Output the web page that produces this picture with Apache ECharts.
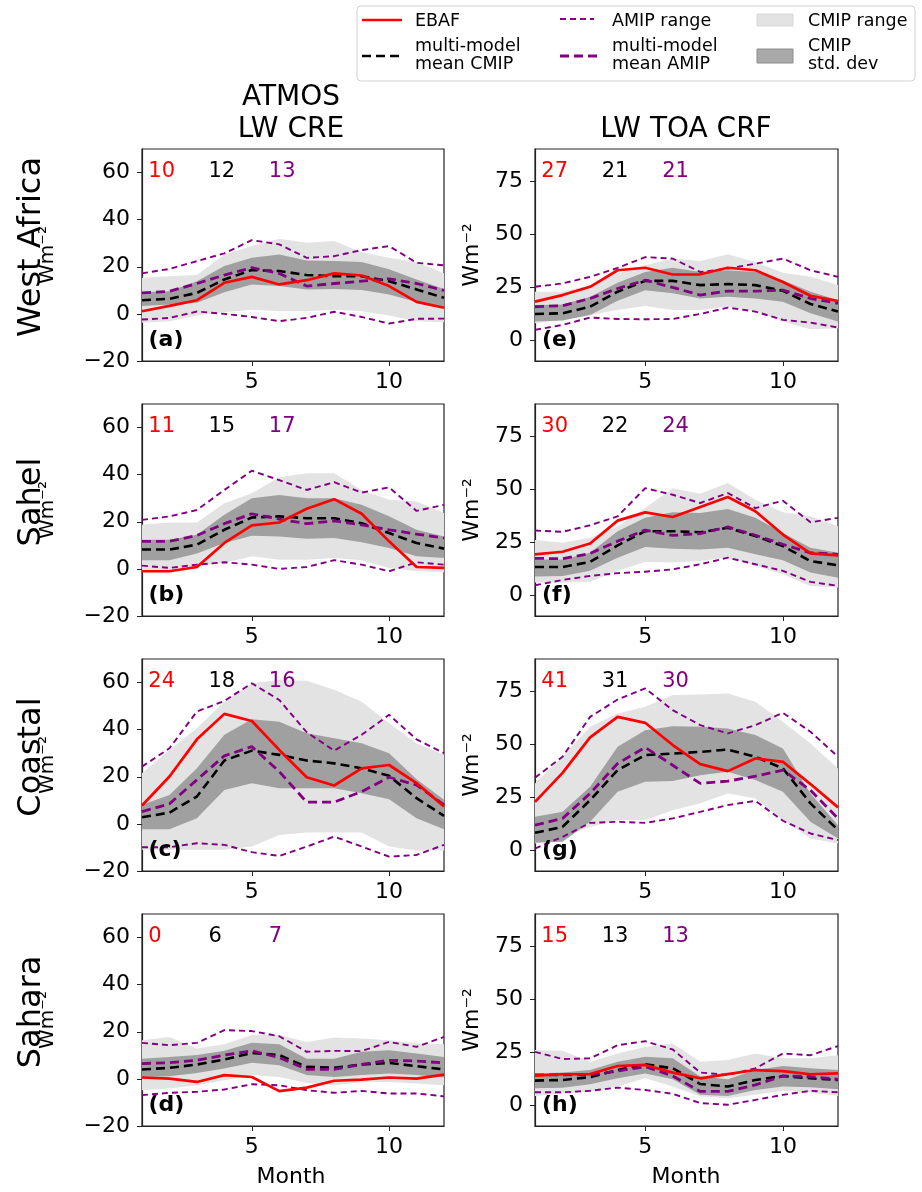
<!DOCTYPE html>
<html>
<head>
<meta charset="utf-8">
<script src="https://cdn.jsdelivr.net/npm/echarts@6/dist/echarts.min.js"></script>
<style>
html, body { margin: 0; padding: 0; background: #fff; }
#chart1 { width: 922px; height: 1192px; }
</style>
</head>
<body>
<div id="chart1"></div>
<script>
var months = [1, 2, 3, 4, 5, 6, 7, 8, 9, 10, 11, 12];

// ATMOS LW CRE, West Africa (a)
var aEbaf = [1.1, 3.4, 5.8, 13.2, 15.7, 12.5, 14.3, 17.2, 16.3, 11.8, 5.1, 2.6];
var aCmip = [5.8, 6.4, 8.9, 14.6, 18.6, 18.2, 16.5, 16.0, 16.0, 13.9, 10.4, 6.8];
var aAmip = [8.9, 9.6, 12.9, 16.5, 19.6, 17.2, 11.8, 12.9, 13.9, 14.9, 12.9, 10.0];
var aAmipMax = [17.2, 19.1, 22.4, 25.7, 31.3, 29.5, 23.8, 24.5, 27.1, 28.8, 21.7, 20.6];
var aAmipMin = [-2.4, -1.7, 1.0, 0.0, -1.3, -3.1, -1.7, 0.9, -1.3, -4.1, -2.1, -2.0];
var aCmipMax = [15.3, 16.0, 16.5, 25.2, 28.8, 31.9, 30.2, 30.9, 26.2, 23.8, 22.0, 17.2];
var aCmipMin = [-3.8, -3.1, -0.7, 0.7, 1.8, 1.1, 1.1, 1.8, 1.1, -0.7, -3.1, -3.5];
var aStdHi = [9.2, 9.6, 13.9, 20.3, 23.8, 25.2, 22.7, 22.4, 22.0, 18.9, 14.6, 10.6];
var aStdLo = [3.3, 4.0, 4.7, 9.2, 12.5, 11.8, 10.4, 10.6, 10.1, 8.2, 5.0, 2.6];

// Sahel (b)
var bEbaf = [-1.0, -1.0, 0.8, 11.0, 18.5, 19.7, 25.5, 29.6, 23.4, 11.7, 0.8, 0.4];
var bCmip = [8.2, 8.2, 10.3, 16.6, 21.8, 22.3, 21.5, 21.5, 19.4, 15.2, 11.0, 8.6];
var bAmip = [11.7, 11.7, 14.2, 19.2, 23.4, 21.1, 19.2, 20.4, 18.7, 16.6, 14.8, 13.1];
var bAmipMax = [20.8, 22.3, 25.0, 33.5, 41.7, 37.7, 33.5, 36.8, 32.4, 34.6, 24.6, 27.2];
var bAmipMin = [1.4, 0.4, 1.8, 2.8, 1.8, 0.0, 0.8, 3.7, 1.8, -1.0, 2.8, 1.8];
var bCmipMax = [18.7, 19.7, 19.7, 27.9, 32.1, 38.9, 40.6, 40.6, 33.5, 29.3, 28.6, 23.7];
var bCmipMin = [-1.4, -1.4, 1.1, 2.5, 5.4, 3.9, 3.9, 4.6, 3.7, 0.4, -1.0, -1.4];
var bStdHi = [12.4, 12.4, 14.5, 23.0, 30.0, 31.4, 30.0, 30.0, 27.2, 22.3, 16.6, 13.8];
var bStdLo = [3.7, 3.7, 6.5, 11.0, 14.1, 13.8, 12.8, 13.1, 11.3, 8.9, 5.4, 4.6];

// Coastal (c)
var cEbaf = [7.8, 20.1, 35.9, 46.7, 43.7, 31.4, 19.8, 16.3, 23.6, 25.0, 17.3, 7.4];
var cCmip = [2.8, 4.8, 11.6, 26.9, 31.1, 29.3, 26.9, 25.7, 23.6, 20.4, 10.9, 3.4];
var cAmip = [5.2, 8.5, 18.7, 28.9, 32.8, 22.2, 9.2, 9.2, 13.7, 19.8, 16.5, 8.1];
var cAmipMax = [24.3, 32.1, 47.7, 52.2, 59.7, 52.6, 38.9, 31.1, 37.8, 46.3, 35.9, 30.0];
var cAmipMin = [-9.9, -9.9, -8.2, -8.9, -12.0, -13.6, -9.6, -5.4, -9.6, -13.9, -13.2, -8.9];
var cCmipMax = [21.5, 31.4, 40.6, 51.9, 59.7, 61.1, 60.8, 56.9, 51.9, 42.7, 34.2, 29.3];
var cCmipMin = [-11.0, -11.0, -11.0, -11.0, -9.6, -4.7, -3.7, -3.7, -3.7, -9.6, -11.3, -11.3];
var cStdHi = [8.1, 12.3, 23.6, 37.8, 44.4, 43.4, 38.5, 36.4, 34.2, 30.0, 19.0, 10.2];
var cStdLo = [-2.3, -2.3, 2.4, 14.4, 17.3, 15.1, 15.1, 15.1, 13.0, 10.5, 2.4, -2.3];

// Sahara (d)
var dEbaf = [0.6, 0.1, -1.3, 1.6, 0.8, -5.2, -3.7, -0.8, -0.3, 0.6, 0.1, 1.8];
var dCmip = [4.0, 4.7, 6.1, 8.2, 11.0, 10.1, 5.1, 4.7, 6.1, 6.8, 5.4, 4.0];
var dAmip = [6.5, 6.9, 7.9, 10.1, 11.9, 9.1, 4.1, 4.0, 6.2, 7.9, 7.6, 6.8];
var dAmipMax = [15.3, 14.3, 15.3, 20.7, 20.3, 18.1, 11.5, 11.9, 11.8, 15.7, 13.6, 17.8];
var dAmipMin = [-6.9, -5.9, -5.5, -4.5, -2.3, -2.7, -4.8, -5.9, -5.1, -6.2, -6.2, -7.4];
var dCmipMax = [16.4, 17.8, 12.9, 14.7, 18.6, 18.6, 15.7, 17.6, 17.1, 16.4, 15.0, 14.7];
var dCmipMin = [-4.8, -4.1, -2.7, -0.6, 1.6, 0.8, -1.7, -2.7, -1.3, -1.3, -2.0, -2.7];
var dStdHi = [8.6, 9.3, 10.1, 11.9, 15.3, 14.7, 8.6, 8.6, 11.5, 12.2, 10.8, 9.3];
var dStdLo = [0.8, 1.1, 2.5, 4.4, 6.8, 5.8, 1.6, 0.8, 1.6, 2.3, 1.6, 0.6];

// LW TOA CRF, West Africa (e)
var eEbaf = [18.0, 21.1, 25.0, 32.8, 34.0, 30.8, 30.9, 34.0, 32.8, 27.3, 20.8, 18.3];
var eCmip = [12.2, 12.5, 15.6, 22.7, 27.8, 27.8, 25.8, 26.3, 25.8, 23.1, 16.9, 13.3];
var eAmip = [15.6, 16.1, 19.5, 24.2, 28.1, 24.7, 21.1, 23.0, 23.0, 23.4, 19.5, 17.2];
var eAmipMax = [25.0, 26.6, 29.7, 33.9, 39.0, 38.3, 32.0, 33.6, 35.9, 38.3, 32.8, 29.7];
var eAmipMin = [4.7, 7.0, 10.5, 9.8, 9.7, 9.8, 12.2, 15.2, 13.3, 9.4, 8.1, 5.8];
var eCmipMax = [22.7, 22.7, 25.8, 31.3, 35.2, 38.3, 37.2, 40.3, 36.7, 31.6, 29.7, 25.8];
var eCmipMin = [7.8, 9.4, 11.7, 14.1, 15.9, 14.1, 14.1, 15.6, 13.3, 8.6, 5.0, 5.5];
var eStdHi = [16.4, 16.7, 20.3, 26.9, 32.0, 34.0, 32.0, 32.8, 32.0, 28.1, 22.7, 18.8];
var eStdLo = [8.6, 9.1, 11.7, 18.4, 23.4, 21.9, 19.5, 20.3, 19.5, 18.0, 12.5, 8.6];

// Sahel (f)
var fEbaf = [19.1, 20.3, 24.2, 35.0, 38.9, 36.7, 41.4, 46.1, 39.4, 28.4, 19.5, 18.6];
var fCmip = [13.1, 13.1, 15.5, 23.3, 30.0, 30.0, 29.5, 31.6, 27.7, 23.0, 15.9, 13.9];
var fAmip = [17.2, 17.0, 19.5, 25.3, 30.5, 28.0, 28.9, 32.0, 28.1, 23.8, 19.8, 19.1];
var fAmipMax = [30.3, 29.7, 32.8, 37.0, 50.3, 47.2, 43.3, 48.0, 40.9, 44.4, 34.2, 36.3];
var fAmipMin = [4.5, 7.0, 8.9, 10.2, 10.9, 12.0, 14.4, 17.5, 14.4, 11.3, 6.1, 4.2];
var fCmipMax = [25.8, 24.5, 26.9, 32.3, 40.9, 50.3, 47.7, 52.7, 44.8, 38.9, 37.0, 32.3];
var fCmipMin = [5.8, 5.8, 6.1, 11.3, 15.5, 15.2, 15.9, 17.5, 13.6, 9.7, 4.2, 3.4];
var fStdHi = [16.7, 16.7, 19.8, 30.0, 36.3, 38.9, 38.6, 40.5, 36.3, 29.2, 22.2, 19.8];
var fStdLo = [8.6, 8.9, 11.3, 17.5, 22.5, 21.7, 21.4, 22.2, 19.1, 16.3, 10.5, 8.1];

// Coastal (g)
var gEbaf = [22.6, 36.3, 53.0, 62.7, 59.9, 49.4, 40.4, 37.1, 43.1, 41.5, 31.0, 20.0];
var gCmip = [8.0, 10.8, 23.4, 37.6, 44.7, 45.4, 46.2, 47.3, 43.9, 38.4, 21.9, 9.3];
var gAmip = [11.6, 14.8, 26.6, 40.7, 48.3, 39.9, 31.3, 32.4, 34.7, 37.6, 28.1, 14.8];
var gAmipMax = [34.0, 43.9, 62.7, 70.9, 76.1, 65.9, 58.8, 54.9, 58.8, 64.6, 55.7, 43.9];
var gAmipMin = [0.6, 6.1, 12.7, 13.2, 12.7, 14.8, 17.9, 21.1, 23.1, 13.7, 7.7, 4.6];
var gCmipMax = [31.3, 43.9, 58.0, 64.3, 67.5, 73.0, 73.3, 73.7, 69.8, 60.4, 50.2, 38.4];
var gCmipMin = [3.0, 6.1, 10.8, 14.0, 14.0, 18.7, 21.9, 26.6, 24.2, 14.0, 5.3, 3.0];
var gStdHi = [15.6, 17.9, 29.7, 48.6, 56.4, 58.3, 58.0, 57.2, 54.1, 47.8, 26.6, 11.6];
var gStdLo = [3.3, 3.8, 13.2, 27.4, 32.1, 32.5, 35.2, 36.8, 32.9, 27.4, 13.2, 5.3];

// Sahara (h)
var hEbaf = [13.8, 14.4, 14.5, 18.3, 18.8, 15.2, 12.5, 14.5, 16.4, 15.9, 14.4, 14.8];
var hCmip = [11.4, 11.7, 13.0, 16.4, 19.1, 17.2, 9.8, 8.6, 11.7, 13.6, 12.5, 11.7];
var hAmip = [14.1, 14.1, 14.1, 15.9, 18.0, 13.6, 6.3, 6.3, 9.4, 13.6, 13.3, 12.0];
var hAmipMax = [25.0, 21.6, 21.9, 28.1, 30.0, 26.1, 15.2, 14.1, 17.2, 24.2, 23.4, 27.7];
var hAmipMin = [5.9, 5.9, 6.6, 8.1, 7.0, 5.2, 0.8, 0.0, 2.3, 4.7, 6.6, 5.9];
var hCmipMax = [25.8, 25.5, 20.3, 24.2, 27.3, 28.9, 20.3, 21.1, 24.2, 21.9, 21.9, 23.4];
var hCmipMin = [4.2, 5.2, 6.3, 8.6, 12.5, 8.6, 3.9, 3.1, 4.7, 6.6, 5.8, 4.2];
var hStdHi = [14.8, 15.2, 16.4, 20.3, 22.7, 21.9, 13.3, 12.0, 16.4, 18.3, 17.2, 16.4];
var hStdLo = [7.8, 8.1, 9.7, 12.5, 14.8, 12.0, 4.7, 4.2, 7.0, 8.6, 8.3, 7.3];

// annual means printed in each panel (EBAF, CMIP, AMIP), panels a..h
var meanEbaf = [10, 11, 24, 0, 27, 30, 41, 15];
var meanCmip = [12, 15, 18, 6, 21, 22, 31, 13];
var meanAmip = [13, 17, 16, 7, 21, 24, 30, 13];

var regions = ['West Africa', 'Sahel', 'Coastal', 'Sahara'];
var monthTicks = [5, 10];
var creTicks = [-20, 0, 20, 40, 60];
var crfTicks = [0, 25, 50, 75];

var FONT = '"DejaVu Sans"';
var RED = '#ff0000', PURPLE = '#800080', LIGHT = '#e3e3e3', DARK = '#a0a0a0';

var colX = [142, 535], colW = [302, 303];
var rowY = [149, 404, 659, 914], rowH = 212;

var panels = [
    {id: 'a', col: 0, row: 0, ebaf: aEbaf, cmip: aCmip, amip: aAmip, amipMax: aAmipMax, amipMin: aAmipMin, cmipMax: aCmipMax, cmipMin: aCmipMin, stdHi: aStdHi, stdLo: aStdLo},
    {id: 'b', col: 0, row: 1, ebaf: bEbaf, cmip: bCmip, amip: bAmip, amipMax: bAmipMax, amipMin: bAmipMin, cmipMax: bCmipMax, cmipMin: bCmipMin, stdHi: bStdHi, stdLo: bStdLo},
    {id: 'c', col: 0, row: 2, ebaf: cEbaf, cmip: cCmip, amip: cAmip, amipMax: cAmipMax, amipMin: cAmipMin, cmipMax: cCmipMax, cmipMin: cCmipMin, stdHi: cStdHi, stdLo: cStdLo},
    {id: 'd', col: 0, row: 3, ebaf: dEbaf, cmip: dCmip, amip: dAmip, amipMax: dAmipMax, amipMin: dAmipMin, cmipMax: dCmipMax, cmipMin: dCmipMin, stdHi: dStdHi, stdLo: dStdLo},
    {id: 'e', col: 1, row: 0, ebaf: eEbaf, cmip: eCmip, amip: eAmip, amipMax: eAmipMax, amipMin: eAmipMin, cmipMax: eCmipMax, cmipMin: eCmipMin, stdHi: eStdHi, stdLo: eStdLo},
    {id: 'f', col: 1, row: 1, ebaf: fEbaf, cmip: fCmip, amip: fAmip, amipMax: fAmipMax, amipMin: fAmipMin, cmipMax: fCmipMax, cmipMin: fCmipMin, stdHi: fStdHi, stdLo: fStdLo},
    {id: 'g', col: 1, row: 2, ebaf: gEbaf, cmip: gCmip, amip: gAmip, amipMax: gAmipMax, amipMin: gAmipMin, cmipMax: gCmipMax, cmipMin: gCmipMin, stdHi: gStdHi, stdLo: gStdLo},
    {id: 'h', col: 1, row: 3, ebaf: hEbaf, cmip: hCmip, amip: hAmip, amipMax: hAmipMax, amipMin: hAmipMin, cmipMax: hCmipMax, cmipMin: hCmipMin, stdHi: hStdHi, stdLo: hStdLo}
];

function pairs(vals) {
    return months.map(function (m, k) { return [m, vals[k]]; });
}

function minus(v) {
    return String(v).replace('-', '\u2212');
}

//filled band between lo and hi: one polygon, drawn on the first item only
function bandSeries(i, lo, hi, color) {
    return {
        type: 'custom', xAxisIndex: i, yAxisIndex: i, silent: true, clip: true,
        data: months.map(function (m, k) { return [m, lo[k], hi[k]]; }),
        encode: {x: 0, y: [1, 2]},
        renderItem: function (params, api) {
            if (params.dataIndex !== 0) return null;
            var upper = [], lower = [];
            for (var k = 0; k < months.length; k++) {
                upper.push(api.coord([months[k], hi[k]]));
                lower.unshift(api.coord([months[k], lo[k]]));
            }
            return {
                type: 'polygon',
                shape: {points: upper.concat(lower)},
                style: {fill: color, stroke: null}
            };
        }
    };
}

function lineSeries(i, vals, color, width, dash) {
    return {
        type: 'line', xAxisIndex: i, yAxisIndex: i, data: pairs(vals),
        symbol: 'none', silent: true,
        lineStyle: {color: color, width: width, type: dash || 'solid', cap: 'butt'}
    };
}

function txt(x, y, text, size, color, opts) {
    opts = opts || {};
    var font = (opts.bold ? 'bold ' : '') + size + 'px ' + FONT;
    return {
        type: 'text', x: x, y: y, z: 100, rotation: opts.rot || 0, silent: true,
        style: {
            text: text, font: font, fill: color || '#000',
            textAlign: opts.align || 'left', textVerticalAlign: 'middle',
            align: opts.align || 'left', verticalAlign: 'middle'
        }
    };
}

var grids = [], xAxes = [], yAxes = [], series = [], graphics = [];

panels.forEach(function (p, i) {
    var left = colX[p.col], width = colW[p.col], top = rowY[p.row];
    var isCre = p.col === 0;

    grids.push({
        left: left, top: top, width: width, height: rowH,
        show: true, borderColor: '#222', borderWidth: 1.2, backgroundColor: 'transparent'
    });

    xAxes.push({
        gridIndex: i, type: 'value', min: 1, max: 12,
        axisLine: {show: true, onZero: false, lineStyle: {color: '#222', width: 1.2}},
        axisTick: {show: true, customValues: monthTicks, length: 5, lineStyle: {color: '#222'}},
        axisLabel: {customValues: monthTicks, fontSize: 22, fontFamily: FONT, color: '#000', margin: 10},
        splitLine: {show: false}
    });

    yAxes.push({
        gridIndex: i, type: 'value', min: isCre ? -20 : -10, max: isCre ? 70 : 90,
        axisLine: {show: true, onZero: false, lineStyle: {color: '#222', width: 1.2}},
        axisTick: {show: true, customValues: isCre ? creTicks : crfTicks, length: 5, lineStyle: {color: '#222'}},
        axisLabel: {
            customValues: isCre ? creTicks : crfTicks, fontSize: 22, fontFamily: FONT,
            color: '#000', margin: 12, formatter: minus
        },
        splitLine: {show: false}
    });

    series.push(bandSeries(i, p.cmipMin, p.cmipMax, LIGHT));
    series.push(bandSeries(i, p.stdLo, p.stdHi, DARK));
    series.push(lineSeries(i, p.amipMax, PURPLE, 1.9, [6, 4]));
    series.push(lineSeries(i, p.amipMin, PURPLE, 1.9, [6, 4]));
    series.push(lineSeries(i, p.cmip, '#000', 2.6, [9, 5]));
    series.push(lineSeries(i, p.amip, PURPLE, 2.8, [9, 5]));
    series.push(lineSeries(i, p.ebaf, RED, 2.7));

    // annual means
    var ny = top + 23;
    graphics.push(txt(left + width * 0.021, ny, String(meanEbaf[i]), 21, RED));
    graphics.push(txt(left + width * 0.22, ny, String(meanCmip[i]), 21, '#000'));
    graphics.push(txt(left + width * 0.42, ny, String(meanAmip[i]), 21, PURPLE));

    // panel letter
    graphics.push(txt(left + (isCre ? 6.5 : 7), top + rowH - 21, '(' + p.id + ')', 22, '#000', {bold: true}));

    // y labels
    var midY = top + rowH / 2;
    if (isCre) {
        graphics.push(txt(32, midY - 8, regions[p.row], 32, '#000', {rot: Math.PI / 2, align: 'center'}));
        graphics.push(txt(48, midY, 'Wm\u207B\u00B2', 20, '#000', {rot: Math.PI / 2, align: 'center'}));
    } else {
        graphics.push(txt(472, midY, 'Wm\u207B\u00B2', 22, '#000', {rot: Math.PI / 2, align: 'center'}));
    }
});

// column titles and x labels
graphics.push(txt(291, 98, 'ATMOS', 28, '#000', {align: 'center'}));
graphics.push(txt(291, 130, 'LW CRE', 28, '#000', {align: 'center'}));
graphics.push(txt(686, 130, 'LW TOA CRF', 28, '#000', {align: 'center'}));
graphics.push(txt(291, 1177, 'Month', 22, '#000', {align: 'center'}));
graphics.push(txt(686, 1177, 'Month', 22, '#000', {align: 'center'}));

// legend box
graphics.push({
    type: 'rect', z: 90, silent: true,
    shape: {x: 357, y: 6, width: 558, height: 75, r: 4},
    style: {fill: '#fff', stroke: '#d0d0d0', lineWidth: 1}
});
function legLine(x1, x2, y, color, width, dash) {
    return {
        type: 'line', z: 100, silent: true,
        shape: {x1: x1, y1: y, x2: x2, y2: y},
        style: {stroke: color, lineWidth: width, lineDash: dash || null}
    };
}
function legRect(y, h, fill, stroke) {
    return {
        type: 'rect', z: 100, silent: true,
        shape: {x: 757, y: y, width: 36, height: h},
        style: {fill: fill, stroke: stroke, lineWidth: 1}
    };
}
graphics.push(legLine(362, 402, 20, RED, 2.7));
graphics.push(legLine(362, 402, 56, '#000', 2.6, [9, 5]));
graphics.push(legLine(560, 594, 19, PURPLE, 1.9, [6, 4]));
graphics.push(legLine(560, 597, 56, PURPLE, 2.8, [9, 5]));
graphics.push(legRect(14, 12, LIGHT, '#d6d6d6'));
graphics.push(legRect(49, 14, '#a9a9a9', '#8c8c8c'));

graphics.push(txt(415, 21, 'EBAF', 17.5));
graphics.push(txt(415, 46.5, 'multi-model', 17.5));
graphics.push(txt(415, 64, 'mean CMIP', 17.5));
graphics.push(txt(612, 21, 'AMIP range', 17.5));
graphics.push(txt(612, 46.5, 'multi-model', 17.5));
graphics.push(txt(612, 64, 'mean AMIP', 17.5));
graphics.push(txt(808, 21, 'CMIP range', 17.5));
graphics.push(txt(808, 46.5, 'CMIP', 17.5));
graphics.push(txt(808, 64, 'std. dev', 17.5));

var chart = echarts.init(document.getElementById('chart1'));
chart.setOption({
    animation: false,
    backgroundColor: '#fff',
    textStyle: {fontFamily: FONT},
    grid: grids,
    xAxis: xAxes,
    yAxis: yAxes,
    series: series,
    graphic: {elements: graphics}
});
</script>
</body>
</html>
